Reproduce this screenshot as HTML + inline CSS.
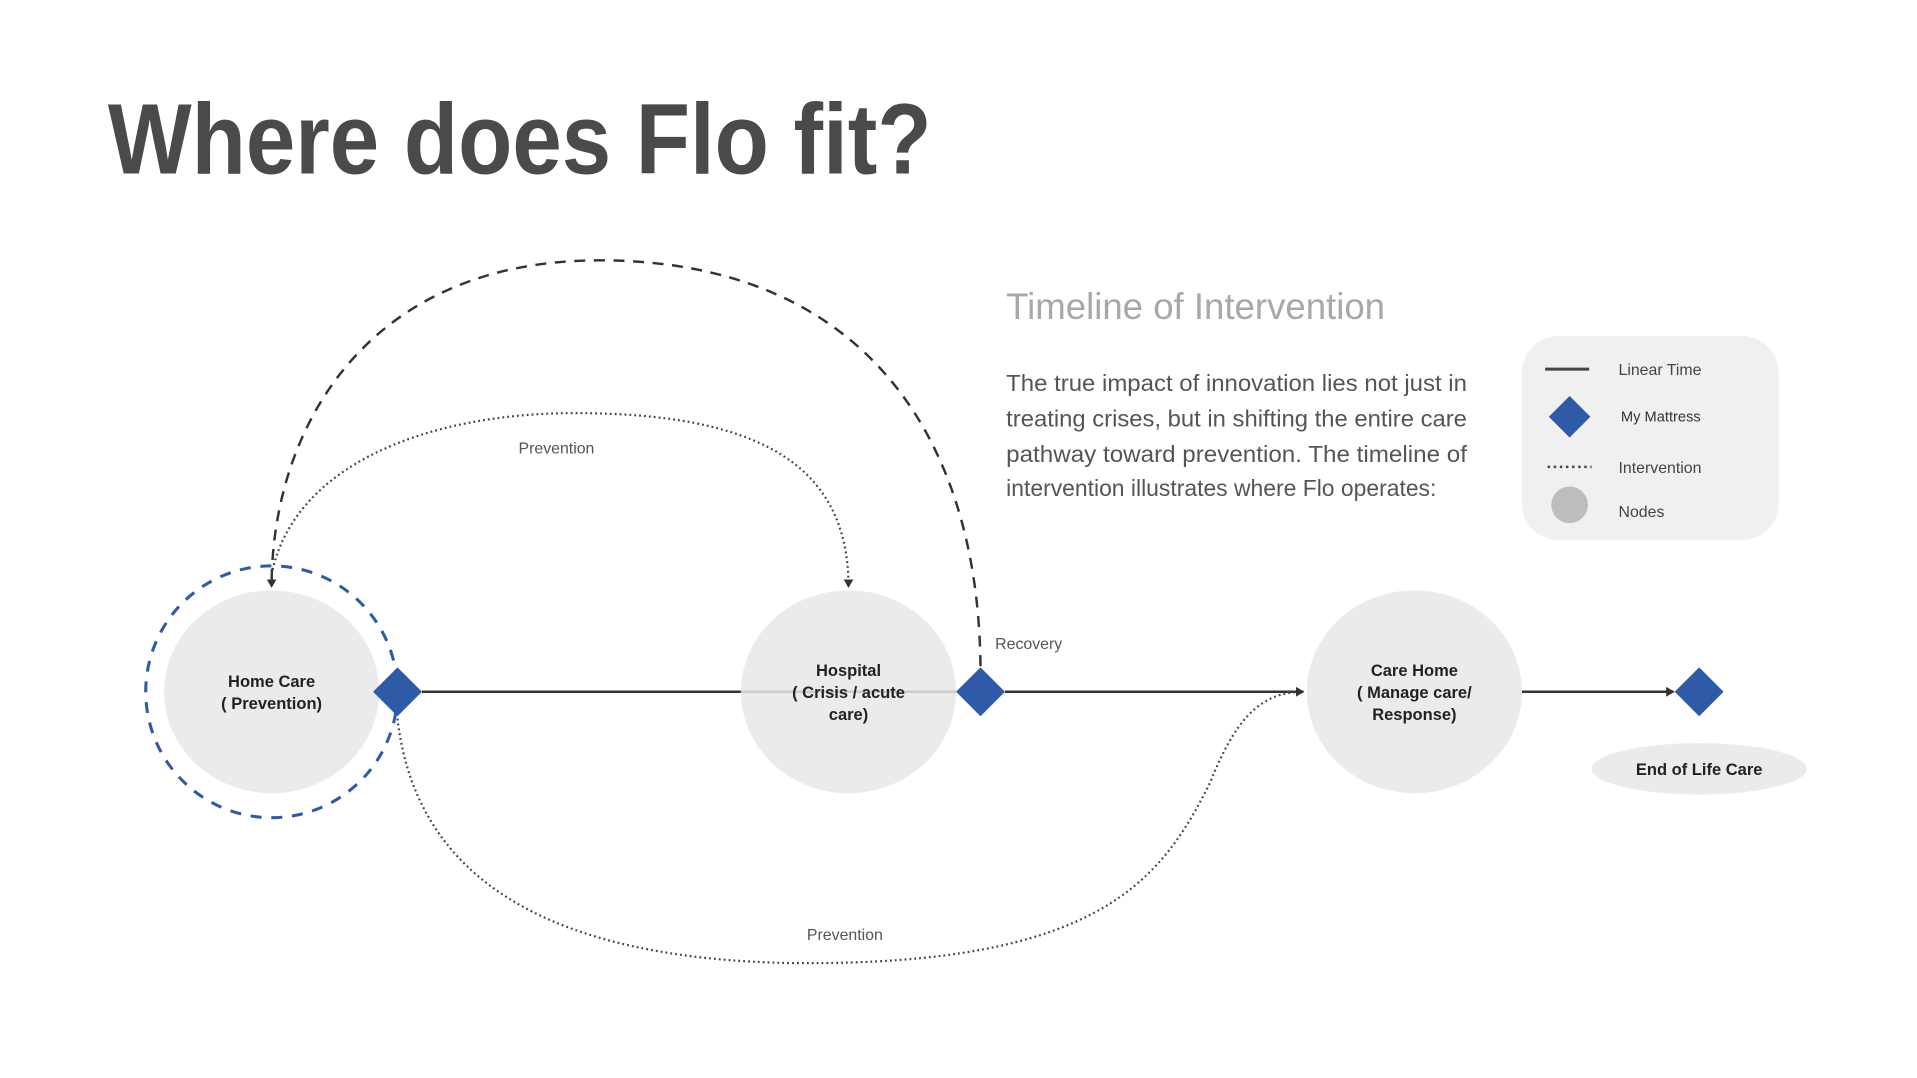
<!DOCTYPE html>
<html><head><meta charset="utf-8"><style>
html,body{margin:0;padding:0;background:#fff;}
svg{display:block;}
text{font-family:"Liberation Sans","DejaVu Sans",sans-serif;}
</style></head><body>
<svg width="1917" height="1078" viewBox="0 0 1568 882" xmlns="http://www.w3.org/2000/svg">
<defs>
<marker id="ah" markerWidth="8" markerHeight="8" refX="6" refY="4" orient="auto" markerUnits="userSpaceOnUse">
<path d="M0,0 L7,4 L0,8 Z" fill="#333"/></marker>
</defs>
<rect width="1568" height="882" fill="#fff"/>
<text x="88" y="142" font-size="82" font-weight="bold" fill="#4a4a4a" textLength="674" lengthAdjust="spacingAndGlyphs">Where does Flo fit?</text>
<text x="823" y="261" font-size="30" fill="#a8a8a8" textLength="310" lengthAdjust="spacingAndGlyphs">Timeline of Intervention</text>
<g font-size="19" fill="#555">
<text x="823" y="320" textLength="377" lengthAdjust="spacingAndGlyphs">The true impact of innovation lies not just in</text>
<text x="823" y="349" textLength="377" lengthAdjust="spacingAndGlyphs">treating crises, but in shifting the entire care</text>
<text x="823" y="378" textLength="377" lengthAdjust="spacingAndGlyphs">pathway toward prevention. The timeline of</text>
<text x="823" y="406" textLength="352" lengthAdjust="spacingAndGlyphs">intervention illustrates where Flo operates:</text>
</g>
<rect x="1245" y="275" width="210" height="167" rx="30" fill="#f0f0f0"/>
<line x1="1264" y1="302" x2="1300" y2="302" stroke="#444" stroke-width="2.5"/>
<text x="1324" y="307" font-size="13" fill="#444">Linear Time</text>
<path d="M1284,324 L1301,341 L1284,358 L1267,341 Z" fill="#2f5aa8"/>
<text x="1326" y="345" font-size="12" fill="#333">My Mattress</text>
<line x1="1266" y1="382" x2="1302" y2="382" stroke="#444" stroke-width="2" stroke-dasharray="2,3"/>
<text x="1324" y="387" font-size="13" fill="#444">Intervention</text>
<circle cx="1284" cy="413" r="15" fill="#bdbdbd"/>
<text x="1324" y="423" font-size="13" fill="#444">Nodes</text>

<ellipse cx="222" cy="566" rx="88" ry="83" fill="#ebebeb"/>
<ellipse cx="694" cy="566" rx="88" ry="83" fill="#ebebeb"/>
<ellipse cx="1157" cy="566" rx="88" ry="83" fill="#ebebeb"/>
<ellipse cx="1390" cy="629" rx="88" ry="21" fill="#ebebeb"/>
<circle cx="222" cy="566" r="103" fill="none" stroke="#2f5aa8" stroke-width="2.5" stroke-dasharray="9,8"/>

<line x1="345" y1="566" x2="606" y2="566" stroke="#333" stroke-width="2"/>
<line x1="606" y1="566" x2="782" y2="566" stroke="#ccc" stroke-width="2"/>
<line x1="822" y1="566" x2="1066" y2="566" stroke="#333" stroke-width="2" marker-end="url(#ah)"/>
<line x1="1245" y1="566" x2="1369" y2="566" stroke="#333" stroke-width="2" marker-end="url(#ah)"/>

<path d="M802,545 C800,350 700,213 490,213 C300,213 222,350 222,480" fill="none" stroke="#333" stroke-width="2" stroke-dasharray="9,7" marker-end="url(#ah)"/>
<path d="M222,470 C240,380 350,338 470,338 C620,338 694,380 694,480" fill="none" stroke="#444" stroke-width="1.8" stroke-dasharray="1.5,2.5" marker-end="url(#ah)"/>
<path d="M325,588 C340,720 450,785 650,788 C900,790 950,720 990,640 C1010,590 1030,566 1066,566" fill="none" stroke="#444" stroke-width="1.8" stroke-dasharray="1.5,2.5" marker-end="url(#ah)"/>

<path d="M325,546 L345,566 L325,586 L305,566 Z" fill="#2f5aa8"/>
<path d="M802,546 L822,566 L802,586 L782,566 Z" fill="#2f5aa8"/>
<path d="M1390,546 L1410,566 L1390,586 L1370,566 Z" fill="#2f5aa8"/>

<g font-size="13" fill="#555">
<text x="424" y="371">Prevention</text>
<text x="814" y="531">Recovery</text>
<text x="660" y="769">Prevention</text>
</g>
<g font-size="13.5" font-weight="bold" fill="#222" text-anchor="middle">
<text x="222" y="562">Home Care</text>
<text x="222" y="580">( Prevention)</text>
<text x="694" y="553">Hospital</text>
<text x="694" y="571">( Crisis / acute</text>
<text x="694" y="589">care)</text>
<text x="1157" y="553">Care Home</text>
<text x="1157" y="571">( Manage care/</text>
<text x="1157" y="589">Response)</text>
<text x="1390" y="634">End of Life Care</text>
</g>
</svg>
</body></html>
